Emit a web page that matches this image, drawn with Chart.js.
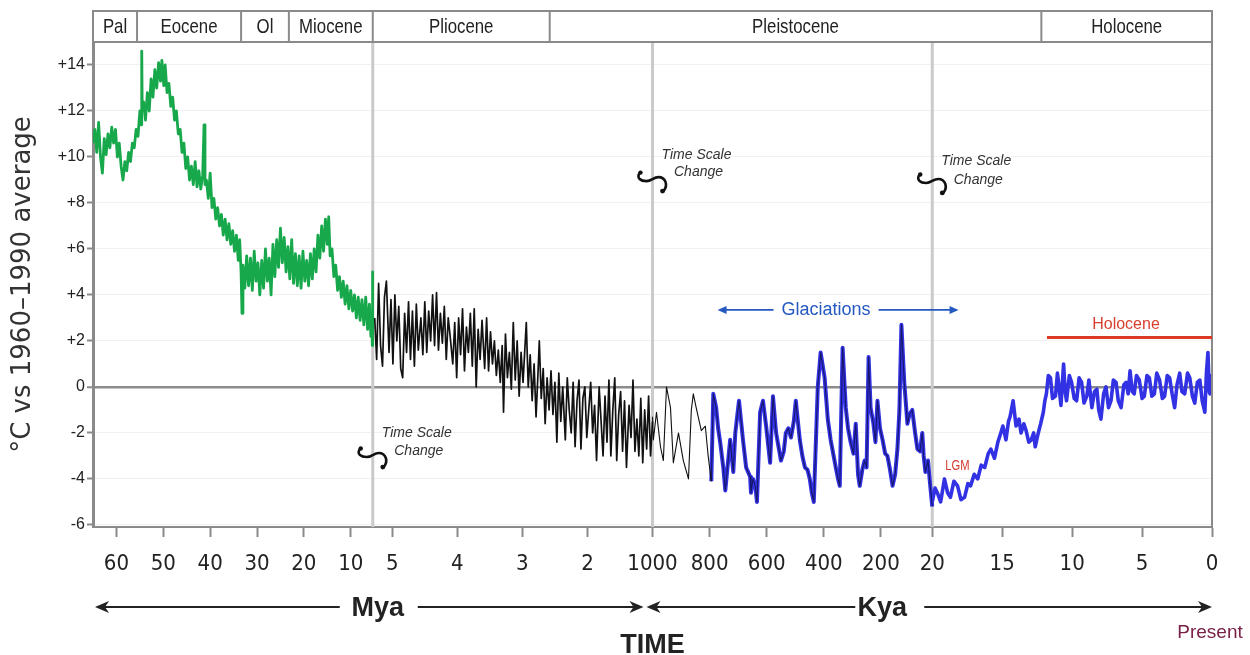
<!DOCTYPE html>
<html lang="en">
<head>
<meta charset="UTF-8">
<title>Cenozoic temperature record</title>
<script src="https://cdn.jsdelivr.net/npm/chart.js"></script>
<style>
  html, body { margin: 0; padding: 0; background: #fff; }
  #wrap { width: 1250px; height: 655px; }
</style>
</head>
<body>
<div id="wrap"><canvas id="tempChart" width="1250" height="655"></canvas></div>
<script>
// ---- data (age, °C vs 1960-1990) ----
// Paleocene to Miocene, millions of years ago
const greenMa = [
  [65.0,10.6],[64.6,11.2],[64.2,10.2],[63.8,11.5],[63.4,10.0],[63.0,9.3],[62.6,10.8],[62.2,10.1],
  [61.8,11.0],[61.4,10.4],[61.0,11.3],[60.6,10.6],[60.2,11.2],[59.8,10.0],[59.4,10.6],[59.0,9.6],
  [58.6,9.0],[58.2,9.8],[57.8,9.4],[57.4,10.2],[57.0,9.8],[56.6,10.6],[56.2,10.4],[55.8,11.2],
  [55.4,10.9],[55.0,12.0],[54.7,11.4],[54.6,14.6],[54.5,12.0],[54.2,12.4],[53.8,11.6],[53.4,12.8],
  [53.0,12.0],[52.6,13.4],[52.2,12.6],[51.8,13.8],[51.4,13.0],[51.0,14.1],[50.6,13.3],[50.3,14.2],
  [49.9,13.1],[49.6,14.0],[49.2,12.8],[48.8,13.2],[48.4,12.2],[48.0,12.6],[47.6,11.6],[47.2,12.0],
  [46.8,11.0],[46.4,11.2],[46.0,10.2],[45.6,10.6],[45.2,9.5],[44.8,10.0],[44.4,9.0],[44.0,9.6],
  [43.6,8.8],[43.2,9.8],[42.8,8.7],[42.4,9.4],[42.0,8.6],[41.6,9.2],[41.3,11.4],[41.1,8.8],
  [40.8,9.0],[40.4,8.2],[40.0,9.3],[39.6,7.8],[39.2,8.2],[38.8,7.3],[38.4,7.8],[38.0,7.0],
  [37.6,7.5],[37.2,6.6],[36.8,7.3],[36.4,6.4],[36.0,7.1],[35.6,6.2],[35.2,6.8],[34.8,5.9],
  [34.4,6.6],[34.0,5.5],[33.7,6.4],[33.4,5.0],[33.2,3.2],[33.0,5.3],[32.6,4.3],[32.2,5.7],
  [31.8,4.4],[31.4,5.6],[31.0,4.2],[30.6,5.9],[30.2,4.6],[29.8,5.4],[29.4,4.0],[29.0,5.5],
  [28.6,4.3],[28.2,6.0],[27.8,4.6],[27.4,5.6],[27.0,4.0],[26.6,6.2],[26.2,4.8],[25.8,6.4],
  [25.4,5.2],[25.0,6.9],[24.6,5.4],[24.2,6.5],[23.8,5.0],[23.4,6.1],[23.0,4.7],[22.6,6.4],
  [22.2,4.5],[21.8,5.8],[21.4,4.4],[21.0,5.7],[20.6,4.3],[20.2,5.9],[19.8,4.6],[19.4,5.5],
  [19.0,4.4],[18.6,5.8],[18.2,4.7],[17.8,6.0],[17.4,5.0],[17.0,6.6],[16.6,5.6],[16.2,7.0],
  [15.8,5.9],[15.4,7.3],[15.0,6.2],[14.7,7.4],[14.4,5.7],[14.0,6.0],[13.6,4.8],[13.2,5.3],
  [12.8,4.2],[12.4,4.8],[12.0,3.9],[11.6,4.6],[11.2,3.6],[10.8,4.4],[10.4,3.4],[10.0,4.2],
  [9.6,3.3],[9.2,4.0],[8.8,3.0],[8.4,3.9],[8.0,2.9],[7.6,3.8],[7.2,2.7],[6.8,3.9],
  [6.4,2.5],[6.0,3.6],[5.7,2.2],[5.5,3.0],[5.4,1.8],[5.35,5.0],[5.3,2.5]
];
// Pliocene and early Pleistocene, millions of years ago
const blackMa = [
  [5.27,3.0],[5.24,1.2],[5.21,4.5],[5.18,1.8],[5.15,0.9],[5.12,3.9],[5.09,4.6],[5.05,1.5],
  [5.02,3.8],[4.99,1.0],[4.96,4.0],[4.93,2.0],[4.90,3.5],[4.87,0.8],[4.84,0.4],[4.81,3.2],
  [4.78,1.5],[4.75,3.7],[4.72,1.2],[4.69,3.3],[4.66,0.9],[4.63,3.6],[4.60,1.6],[4.56,3.0],
  [4.53,1.4],[4.50,3.7],[4.47,1.5],[4.44,3.3],[4.41,2.0],[4.38,4.0],[4.35,1.8],[4.32,4.1],
  [4.29,1.6],[4.26,3.2],[4.23,1.9],[4.20,3.5],[4.17,1.2],[4.14,3.0],[4.11,2.2],[4.07,1.0],
  [4.04,2.8],[4.01,0.4],[3.98,3.0],[3.95,1.4],[3.92,3.4],[3.89,0.7],[3.86,2.6],[3.83,1.5],
  [3.80,3.2],[3.77,0.9],[3.74,3.4],[3.71,0.0],[3.68,2.5],[3.65,1.2],[3.62,2.9],[3.58,0.8],
  [3.55,3.0],[3.52,0.7],[3.49,2.4],[3.46,1.0],[3.43,2.0],[3.40,0.5],[3.37,1.6],[3.34,0.2],
  [3.31,1.8],[3.29,-1.1],[3.26,2.3],[3.23,0.4],[3.20,1.5],[3.17,-0.1],[3.14,2.8],[3.11,0.3],
  [3.08,2.0],[3.05,-0.4],[3.02,1.5],[2.99,0.2],[2.94,2.8],[2.91,0.0],[2.88,1.4],[2.85,-0.6],
  [2.82,1.0],[2.79,-1.3],[2.76,0.6],[2.74,2.0],[2.71,-0.5],[2.68,0.8],[2.65,-1.6],[2.62,0.4],
  [2.59,-1.0],[2.56,0.7],[2.53,-1.2],[2.50,0.2],[2.47,-2.4],[2.44,0.6],[2.41,-1.5],[2.38,0.0],
  [2.34,-2.3],[2.31,0.4],[2.28,-1.0],[2.25,-2.0],[2.22,0.2],[2.19,-2.6],[2.16,-0.6],[2.13,0.3],
  [2.10,-2.7],[2.07,-0.5],[2.04,0.0],[2.01,-2.2],[1.98,-1.0],[1.95,0.2],[1.92,-2.0],[1.89,-0.8],
  [1.86,-3.2],[1.82,0.0],[1.79,-1.5],[1.76,-3.0],[1.73,-0.4],[1.70,-2.4],[1.67,0.3],[1.64,-3.0],
  [1.61,-1.0],[1.58,0.4],[1.55,-3.2],[1.52,-1.2],[1.49,-0.2],[1.46,-2.8],[1.43,-0.6],[1.40,-3.5],
  [1.36,-0.8],[1.33,-2.2],[1.30,0.3],[1.27,-2.8],[1.24,-1.4],[1.21,-3.0],[1.18,-0.5],[1.15,-3.3],
  [1.12,-1.0],[1.09,-2.7],[1.06,-0.4],[1.03,-3.0],[1.0,-1.5]
];
// Middle/late Pleistocene, thousands of years ago
const pleistoKa = [
  [1000,-1.3],[997,-2.3],[986,-1.1],[972,-2.6],[962,-3.2],[951,0.0],[937,-0.9],[927,-3.3],
  [909,-2.0],[892,-3.2],[874,-4.0],[864,-1.0],[857,-0.3],[847,-0.9],[829,-1.9],[815,-1.7],
  [805,-3.0],[794,-4.1],[787,-0.3],[777,-0.9],[770,-1.8],[763,-2.4],[752,-3.5],[745,-4.5],
  [728,-2.3],[717,-3.7],[710,-2.0],[697,-0.6],[683,-2.3],[672,-3.5],[658,-3.9],[655,-4.6],
  [648,-4.0],[640,-4.3],[634,-5.0],[623,-1.1],[613,-0.6],[602,-1.7],[588,-3.3],[578,-0.4],
  [567,-2.0],[550,-3.2],[540,-2.8],[533,-2.0],[524,-1.8],[515,-2.2],[505,-1.5],[498,-0.6],
  [484,-2.3],[475,-3.0],[466,-3.5],[457,-3.6],[449,-4.0],[442,-4.6],[435,-5.0],[421,0.0],
  [411,1.5],[397,0.4],[386,-1.4],[376,-2.3],[358,-3.5],[350,-4.0],[344,-4.3],[334,1.7],
  [323,-0.9],[315,-1.8],[306,-2.4],[296,-2.9],[288,-1.6],[280,-3.8],[274,-4.3],[265,-3.6],
  [257,-3.2],[250,-3.5],[243,1.3],[236,-0.9],[226,-1.6],[219,-2.4],[212,-0.6],[203,-1.8],
  [194,-2.3],[185,-2.9],[177,-3.0],[168,-3.6],[159,-4.3],[150,-3.8],[142,-2.7],[135,-1.0],
  [128,2.7],[118,0.2],[107,-1.6],[100,-1.2],[90,-1.0],[80,-2.0],[72,-2.7],[63,-2.8],
  [55,-2.0],[50,-3.0],[44,-3.7],[35,-3.2],[27,-4.3],[20,-5.2]
];
// Last glacial maximum to present, thousands of years ago
const lateKa = [
  [20.0,-5.0],[19.8,-4.4],[19.64,-4.6],[19.4,-5.0],[19.13,-4.0],[18.9,-4.6],[18.7,-4.8],[18.45,-4.1],
  [18.19,-4.3],[17.95,-4.9],[17.69,-4.8],[17.45,-4.2],[17.26,-4.3],[17.0,-3.8],[16.75,-4.0],[16.5,-3.4],
  [16.25,-3.5],[16.0,-2.9],[15.81,-2.7],[15.55,-3.1],[15.31,-2.4],[15.1,-2.0],[14.95,-1.7],[14.73,-2.3],
  [14.55,-1.5],[14.44,-1.3],[14.22,-0.6],[14.01,-1.7],[13.8,-1.4],[13.65,-2.0],[13.45,-1.6],[13.29,-1.9],
  [13.1,-2.4],[12.92,-2.3],[12.75,-2.0],[12.64,-2.6],[12.42,-2.0],[12.25,-1.6],[12.06,-1.1],[11.95,-0.6],
  [11.84,-0.3],[11.7,0.5],[11.55,0.4],[11.4,-0.5],[11.19,-0.4],[11.05,0.6],[10.97,0.2],[10.8,-0.8],
  [10.61,1.0],[10.5,-0.2],[10.4,-0.6],[10.2,0.5],[10.04,0.2],[9.85,-0.5],[9.68,-0.6],[9.5,0.4],
  [9.32,0.2],[9.15,-0.7],[8.95,-0.4],[8.8,0.3],[8.59,-0.9],[8.4,-0.2],[8.23,-0.1],[8.1,-1.0],
  [7.94,-1.4],[7.75,-0.3],[7.58,0.0],[7.4,-0.9],[7.22,-0.6],[7.05,0.3],[6.86,0.2],[6.7,-0.6],
  [6.5,-0.9],[6.3,0.1],[6.14,0.2],[5.99,-0.3],[5.86,0.7],[5.7,-0.2],[5.56,-0.3],[5.4,0.5],
  [5.2,0.3],[5.0,-0.5],[4.84,-0.4],[4.65,0.5],[4.48,0.4],[4.3,-0.4],[4.12,-0.3],[3.95,0.6],
  [3.75,0.3],[3.55,-0.5],[3.39,-0.4],[3.2,0.5],[3.03,0.4],[2.85,-0.3],[2.67,-0.9],[2.5,0.1],
  [2.31,0.6],[2.15,-0.2],[1.95,-0.3],[1.75,0.6],[1.59,0.4],[1.4,-0.4],[1.23,-0.7],[1.05,0.2],
  [0.87,0.3],[0.7,-0.6],[0.51,-1.1],[0.4,0.6],[0.29,1.5],[0.2,-0.2],[0.14,-0.3],[0.05,0.5],[0.0,0.2]
];

const tickMa = [60, 50, 40, 30, 20, 10, 5, 4, 3, 2];
const tickKa = [1000, 800, 600, 400, 200, 20, 15, 10, 5, 0];
const yTicks = [-6, -4, -2, 0, 2, 4, 6, 8, 10, 12, 14];

const epochNames = ['Pal', 'Eocene', 'Ol', 'Miocene', 'Pliocene', 'Pleistocene', 'Holocene'];
const epochStart = [[65, 'Ma'], [55.6, 'Ma'], [33.4, 'Ma'], [23.2, 'Ma'], [5.3, 'Ma'], [2.58, 'Ma'], [12.2, 'ka']];
const holoceneStartKa = 11.8;
const holoceneLineTemp = 2.15;

// piecewise time axis: four equal-width panels, each with its own scale
function xOf(age, unit) {
  if (unit === 'ka' && age > 1000) { age = age / 1000; unit = 'Ma'; }
  if (unit === 'Ma') {
    if (age >= 5.3) return (65 - age) / 59.7;
    return 1 + (5.3 - age) / 4.3;
  }
  if (age >= 20) return 2 + (1000 - age) / 980;
  return 3 + (20 - age) / 20;
}
const toPts = (arr, unit) => arr.map(p => ({ x: xOf(p[0], unit), y: p[1] }));

const tickPos = tickMa.map(a => xOf(a, 'Ma')).concat(tickKa.map(a => xOf(a, 'ka')));
const tickText = tickMa.concat(tickKa).map(String);

const NARROW = '"Liberation Sans Narrow", "DejaVu Sans Condensed", "Liberation Sans", sans-serif';
const SANS = '"Liberation Sans", Arial, sans-serif';

const blueStart = xOf(795, 'ka');

// text squeezed sideways, to look like a narrow face
function narrowText(ctx, text, x, y, squeeze) {
  ctx.save();
  ctx.translate(x, y);
  ctx.scale(squeeze, 1);
  ctx.fillText(text, 0, 0);
  ctx.restore();
}

function arrow(ctx, x1, x2, y) {
  const dir = x2 > x1 ? 1 : -1;
  ctx.beginPath();
  ctx.moveTo(x1, y);
  ctx.lineTo(x2 - dir * 8, y);
  ctx.stroke();
  ctx.beginPath();
  ctx.moveTo(x2, y);
  ctx.lineTo(x2 - dir * 14, y - 6);
  ctx.lineTo(x2 - dir * 10, y);
  ctx.lineTo(x2 - dir * 14, y + 6);
  ctx.closePath();
  ctx.fill();
}

function arrowSmall(ctx, x1, x2, y) {
  const dir = x2 > x1 ? 1 : -1;
  ctx.beginPath(); ctx.moveTo(x1, y); ctx.lineTo(x2 - dir * 5, y); ctx.stroke();
  ctx.beginPath();
  ctx.moveTo(x2, y);
  ctx.lineTo(x2 - dir * 9, y - 4);
  ctx.lineTo(x2 - dir * 9, y + 4);
  ctx.closePath();
  ctx.fill();
}

function squiggle(ctx, x, y) {
  ctx.save();
  ctx.strokeStyle = '#111';
  ctx.fillStyle = '#111';
  ctx.lineWidth = 2.6;
  ctx.lineCap = 'round';
  ctx.beginPath();
  ctx.moveTo(x + 2, y + 3);
  ctx.bezierCurveTo(x - 1, y + 8, x + 3, y + 11, x + 9, y + 11);
  ctx.bezierCurveTo(x + 14, y + 11, x + 16, y + 7, x + 21, y + 7);
  ctx.bezierCurveTo(x + 28, y + 7, x + 31, y + 15, x + 26, y + 21);
  ctx.stroke();
  ctx.beginPath(); ctx.arc(x + 3, y + 2.5, 2.2, 0, Math.PI * 2); ctx.fill();
  ctx.beginPath(); ctx.arc(x + 25, y + 21, 2.4, 0, Math.PI * 2); ctx.fill();
  ctx.restore();
}

const decor = {
  id: 'decor',
  beforeDatasetsDraw(chart) {
    const { ctx, chartArea: a, scales: { x } } = chart;
    ctx.save();
    ctx.strokeStyle = '#cacaca';
    ctx.lineWidth = 3;
    [1, 2, 3].forEach(v => {
      const px = x.getPixelForValue(v);
      ctx.beginPath(); ctx.moveTo(px, a.top); ctx.lineTo(px, a.bottom); ctx.stroke();
    });
    ctx.restore();
  },
  afterDraw(chart) {
    const { ctx, chartArea: a, scales: { x, y } } = chart;
    ctx.save();

    // right frame line
    ctx.strokeStyle = '#8a8a8a';
    ctx.lineWidth = 2;
    ctx.beginPath(); ctx.moveTo(a.right, 11); ctx.lineTo(a.right, a.bottom); ctx.stroke();

    // epoch header band
    const hTop = 11, hBot = a.top;
    ctx.strokeRect(a.left, hTop, a.right - a.left, hBot - hTop);
    ctx.font = '21px ' + SANS;
    ctx.fillStyle = '#222';
    ctx.textAlign = 'center';
    ctx.textBaseline = 'middle';
    epochNames.forEach((name, i) => {
      const x0 = x.getPixelForValue(xOf(epochStart[i][0], epochStart[i][1]));
      const x1 = i + 1 < epochStart.length ? x.getPixelForValue(xOf(epochStart[i + 1][0], epochStart[i + 1][1])) : a.right;
      if (i > 0) { ctx.beginPath(); ctx.moveTo(x0, hTop); ctx.lineTo(x0, hBot); ctx.stroke(); }
      narrowText(ctx, name, (x0 + x1) / 2, (hTop + hBot) / 2 + 1, 0.8);
    });

    // Holocene marker
    const hy = y.getPixelForValue(holoceneLineTemp);
    const hx = x.getPixelForValue(xOf(holoceneStartKa, 'ka'));
    ctx.strokeStyle = '#dc3a26';
    ctx.lineWidth = 3;
    ctx.beginPath(); ctx.moveTo(hx, hy); ctx.lineTo(a.right, hy); ctx.stroke();
    ctx.fillStyle = '#d8402e';
    ctx.font = '16px ' + SANS;
    ctx.fillText('Holocene', x.getPixelForValue(xOf(6.15, 'ka')), y.getPixelForValue(2.7));

    // LGM label
    ctx.fillStyle = '#d33a2c';
    ctx.font = '14px ' + SANS;
    narrowText(ctx, 'LGM', x.getPixelForValue(xOf(18.2, 'ka')), y.getPixelForValue(-3.43), 0.8);

    // Glaciations
    const gx = x.getPixelForValue(xOf(392, 'ka'));
    const gy = y.getPixelForValue(3.35);
    ctx.font = '18px ' + SANS;
    ctx.fillStyle = '#2459c2';
    ctx.fillText('Glaciations', gx, gy);
    const gw = ctx.measureText('Glaciations').width / 2;
    ctx.strokeStyle = '#2459c2';
    ctx.lineWidth = 1.6;
    arrowSmall(ctx, gx - gw - 8, gx - gw - 64, gy);
    arrowSmall(ctx, gx + gw + 8, gx + gw + 88, gy);

    // Time scale change notes
    const notes = [[1, -2.57, -2.0, -2.78], [2, 9.43, 10.1, 9.35], [3, 9.35, 9.83, 9.0]];
    ctx.font = 'italic 14px ' + SANS;
    ctx.fillStyle = '#333';
    notes.forEach(n => {
      const bx = x.getPixelForValue(n[0]);
      squiggle(ctx, bx - 15, y.getPixelForValue(n[1]));
      ctx.fillText('Time Scale', bx + 44, y.getPixelForValue(n[2]));
      ctx.fillText('Change', bx + 46, y.getPixelForValue(n[3]));
    });

    // Mya / Kya arrows
    const ry = 607;
    const b1 = x.getPixelForValue(1), b2 = x.getPixelForValue(2), b3 = x.getPixelForValue(3);
    ctx.fillStyle = '#222';
    ctx.strokeStyle = '#222';
    ctx.lineWidth = 2;
    ctx.font = 'bold 27px ' + SANS;
    ctx.fillText('Mya', b1 + 5, ry + 2);
    ctx.fillText('Kya', b3 - 50, ry + 2);
    arrow(ctx, b1 - 33, a.left + 2, ry);
    arrow(ctx, b1 + 45, b2 - 9, ry);
    arrow(ctx, b3 - 77, b2 - 6, ry);
    arrow(ctx, b3 - 8, a.right, ry);

    ctx.fillStyle = '#7a2148';
    ctx.font = '19px ' + SANS;
    ctx.fillText('Present', a.right - 2, 633);
    ctx.restore();
  }
};

new Chart(document.getElementById('tempChart'), {
  type: 'line',
  data: {
    datasets: [
      {
        label: 'Pleistocene (black)',
        data: toPts(pleistoKa, 'ka'),
        borderColor: '#111',
        borderWidth: 1.1,
        order: 0,
        segment: { borderColor: c => c.p0.parsed.x > blueStart ? 'rgba(0,0,0,0.55)' : '#111' }
      },
      {
        label: 'Pleistocene (blue)',
        data: toPts(pleistoKa.filter(p => p[0] <= 795), 'ka'),
        borderColor: '#3232e4',
        borderWidth: 4,
        order: 1
      },
      {
        label: 'Late glacial / Holocene',
        data: toPts(lateKa, 'ka'),
        borderColor: '#3232e4',
        borderWidth: 3.6,
        order: 1
      },
      {
        label: 'Pliocene',
        data: toPts(blackMa, 'Ma'),
        borderColor: '#111',
        borderWidth: 1.7,
        order: 2
      },
      {
        label: 'Paleogene / Miocene',
        data: toPts(greenMa, 'Ma'),
        borderColor: '#17a84b',
        borderWidth: 2.8,
        order: 2
      }
    ]
  },
  options: {
    responsive: false,
    animation: false,
    layout: { padding: { top: 42, right: 38, left: 0, bottom: 0 } },
    elements: {
      point: { radius: 0 },
      line: { tension: 0, fill: false, borderJoinStyle: 'round' }
    },
    plugins: {
      legend: { display: false },
      tooltip: { enabled: false }
    },
    scales: {
      x: {
        type: 'linear',
        min: 0,
        max: 4,
        afterBuildTicks: s => { s.ticks = tickPos.map(v => ({ value: v })); },
        afterFit: s => { s.height = 128; },
        grid: { drawOnChartArea: false, drawTicks: true, tickLength: 10, tickColor: '#8a8a8a', tickWidth: 2 },
        border: { display: true, color: '#8a8a8a', width: 2 },
        ticks: {
          autoSkip: false, maxRotation: 0, padding: 14, color: '#222',
          font: { family: NARROW, size: 22 },
          callback: (v, i) => tickText[i]
        },
        title: {
          display: true, text: 'TIME', color: '#222',
          font: { family: SANS, size: 27, weight: 'bold' },
          padding: { top: 0, bottom: -7 }
        }
      },
      y: {
        min: -6.09,
        max: 15,
        afterBuildTicks: s => { s.ticks = yTicks.map(v => ({ value: v })); },
        afterFit: s => { s.width = 93; },
        grid: {
          color: c => (c.tick && c.tick.value === 0) ? '#8c8c8c' : '#f1f1f1',
          lineWidth: c => (c.tick && c.tick.value === 0) ? 2.5 : 1,
          tickColor: '#8a8a8a', tickLength: 6, tickWidth: 2
        },
        border: { display: true, color: '#8a8a8a', width: 3 },
        ticks: {
          padding: 2, color: '#222',
          font: { family: SANS, size: 16 },
          callback: v => v > 0 ? '+' + v : String(v)
        },
        title: {
          display: true, text: '°C vs 1960–1990 average', color: '#333',
          font: { family: '"DejaVu Sans", sans-serif', size: 26 },
          padding: { top: 8, bottom: 0 }
        }
      }
    }
  },
  plugins: [decor]
});
</script>
</body>
</html>
